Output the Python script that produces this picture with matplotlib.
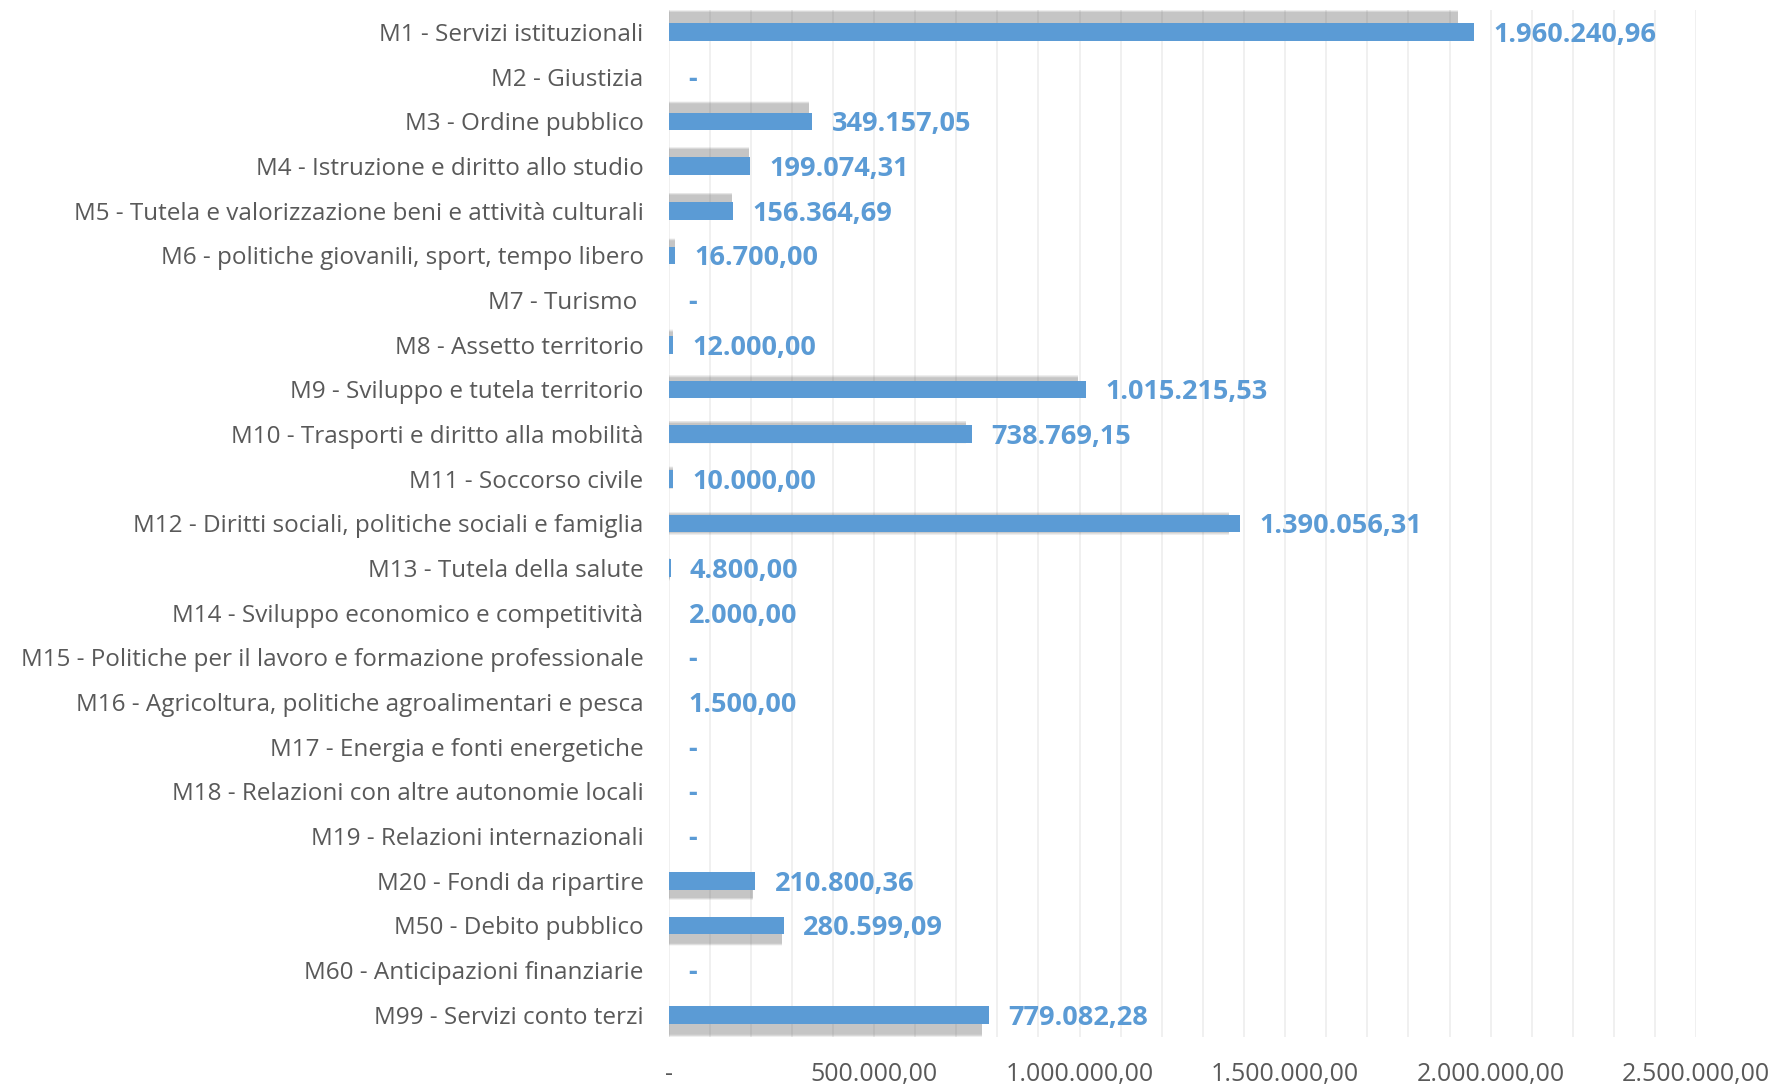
import numpy as np
import matplotlib.pyplot as plt
from matplotlib.ticker import MultipleLocator, FuncFormatter

categories = [
    "M1 - Servizi istituzionali",
    "M2 - Giustizia",
    "M3 - Ordine pubblico",
    "M4 - Istruzione e diritto allo studio",
    "M5 - Tutela e valorizzazione beni e attività culturali",
    "M6 - politiche giovanili, sport, tempo libero",
    "M7 - Turismo ",
    "M8 - Assetto territorio",
    "M9 - Sviluppo e tutela territorio",
    "M10 - Trasporti e diritto alla mobilità",
    "M11 - Soccorso civile",
    "M12 - Diritti sociali, politiche sociali e famiglia",
    "M13 - Tutela della salute",
    "M14 - Sviluppo economico e competitività",
    "M15 - Politiche per il lavoro e formazione professionale",
    "M16 - Agricoltura, politiche agroalimentari e pesca",
    "M17 - Energia e fonti energetiche",
    "M18 - Relazioni con altre autonomie locali",
    "M19 - Relazioni internazionali",
    "M20 - Fondi da ripartire",
    "M50 - Debito pubblico",
    "M60 - Anticipazioni finanziarie",
    "M99 - Servizi conto terzi",
]
values = [
    1960240.96, 0, 349157.05, 199074.31, 156364.69, 16700.00, 0, 12000.00,
    1015215.53, 738769.15, 10000.00, 1390056.31, 4800.00, 2000.00, 0, 1500.00,
    0, 0, 0, 210800.36, 280599.09, 0, 779082.28,
]
x_max = 2500000

BLUE = "#5B9BD5"
GREY_TXT = "#595959"
FONT = "Open Sans"


def it_fmt(v):
    # Excel accounting style: 1.234.567,89 and "-" for zero
    if v == 0:
        return "-"
    s = "{:,.2f}".format(v)
    return s.replace(",", "X").replace(".", ",").replace("X", ".")


fig = plt.figure(figsize=(17.78, 10.86), dpi=100)
ax = fig.add_axes([0.376, 0.045, 0.578, 0.946])

y = np.arange(len(categories))
bar_h = 0.4
n_mid = (len(categories) - 1) / 2.0

# soft shadow, pushed away from the middle of the chart
for i, v in enumerate(values):
    if v == 0:
        continue
    off = -(n_mid - i) / n_mid * 0.24
    for k in range(8):
        grow = 0.016 * k
        ax.barh(y[i] + off, v * 0.98, height=bar_h + grow, color="#707070",
                alpha=0.06, zorder=1, linewidth=0)

ax.barh(y, values, height=bar_h, color=BLUE, zorder=3, linewidth=0)

for i, v in enumerate(values):
    ax.annotate(it_fmt(v), xy=(v, y[i]), xytext=(14, -2), textcoords="offset points",
                ha="left", va="center", color=BLUE, fontsize=19.5, fontweight="bold",
                family=FONT)

ax.set_xlim(0, x_max)
ax.set_ylim(len(categories) - 0.5, -0.5)
ax.xaxis.set_major_locator(MultipleLocator(500000))
ax.xaxis.set_minor_locator(MultipleLocator(100000))
ax.xaxis.set_major_formatter(FuncFormatter(lambda v, p: it_fmt(v)))
ax.grid(True, which="both", axis="x", color="#EDEDED", linewidth=1.2, zorder=0)
ax.set_axisbelow(True)

ax.set_yticks(y)
ax.set_yticklabels(categories)
for sp in ax.spines.values():
    sp.set_visible(False)
ax.tick_params(axis="both", which="both", length=0)
ax.tick_params(axis="y", pad=18)
ax.tick_params(axis="x", pad=18)
for lab in ax.get_yticklabels():
    lab.set_family(FONT)
    lab.set_color(GREY_TXT)
    lab.set_fontsize(17.5)
for lab in ax.get_xticklabels():
    lab.set_family(FONT)
    lab.set_color(GREY_TXT)
    lab.set_fontsize(18)

fig.savefig("out.png", dpi=100, facecolor="white")
